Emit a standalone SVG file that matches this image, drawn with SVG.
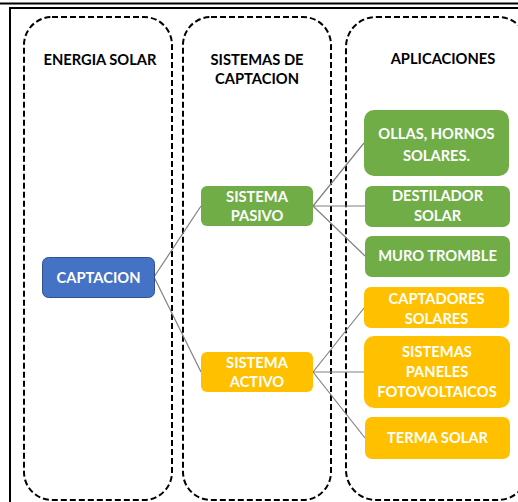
<svg xmlns="http://www.w3.org/2000/svg" width="518" height="502" viewBox="0 0 518 502">
<style>
.frame{fill:none;stroke:#000;stroke-width:2}
.lane{fill:none;stroke:#000;stroke-width:2;stroke-dasharray:6 3}
.hdr{font-family:Lato,"Liberation Sans",Arial,sans-serif;font-weight:bold;font-size:14.7px;fill:#000;text-anchor:middle}
.lbl{font-family:Lato,"Liberation Sans",Arial,sans-serif;font-weight:bold;font-size:14.7px;fill:#fff;text-anchor:middle}
.green{fill:#70AD47}
.orange{fill:#FFC000}
.blue{fill:#4472C4;stroke:#2F528F;stroke-width:1}
.conn line{stroke:#808080;stroke-width:1.2}
</style>
<rect width="518" height="502" fill="#fff"/>
<g id="frame">
<line class="frame" x1="0" y1="3.5" x2="518" y2="3.5"/>
<line class="frame" x1="9" y1="8" x2="518" y2="8"/>
<line class="frame" x1="10" y1="7" x2="10" y2="502"/>
</g>
<g id="lanes">
<rect class="lane" x="24" y="17" width="148" height="483" rx="28"/>
<rect class="lane" x="183" y="17" width="148" height="483" rx="28"/>
<rect class="lane" x="346" y="17" width="182" height="483" rx="30"/>
<text class="hdr" x="100" y="65">ENERGIA SOLAR</text>
<text class="hdr" x="257" y="65">SISTEMAS DE</text>
<text class="hdr" x="257" y="84">CAPTACION</text>
<text class="hdr" x="443" y="64">APLICACIONES</text>
</g>
<g id="connectors" class="conn">
<line x1="154" y1="277" x2="201" y2="206"/>
<line x1="154" y1="277" x2="201" y2="372"/>
<line x1="313" y1="206" x2="364" y2="143"/>
<line x1="313" y1="206" x2="365" y2="206"/>
<line x1="313" y1="206" x2="365" y2="256"/>
<line x1="313" y1="372" x2="364" y2="308"/>
<line x1="313" y1="372" x2="364" y2="372"/>
<line x1="313" y1="372" x2="365" y2="438"/>
</g>
<g id="captacion">
<rect class="blue" x="42.5" y="257.5" width="112" height="40" rx="6"/>
<text class="lbl" x="98.5" y="283">CAPTACION</text>
</g>
<g id="pasivo">
<rect class="green" x="201" y="186" width="112" height="40" rx="6"/>
<text class="lbl" x="257" y="202">SISTEMA</text>
<text class="lbl" x="257" y="221">PASIVO</text>
</g>
<g id="activo">
<rect class="orange" x="201" y="352" width="112" height="40" rx="6"/>
<text class="lbl" x="257" y="368">SISTEMA</text>
<text class="lbl" x="257" y="387">ACTIVO</text>
</g>
<g id="ollas">
<rect class="green" x="364" y="110" width="145" height="66" rx="10"/>
<text class="lbl" x="436.5" y="139">OLLAS, HORNOS</text>
<text class="lbl" x="436.5" y="161">SOLARES.</text>
</g>
<g id="destilador">
<rect class="green" x="365" y="186" width="145" height="41" rx="7"/>
<text class="lbl" x="437.5" y="201">DESTILADOR</text>
<text class="lbl" x="437.5" y="221">SOLAR</text>
</g>
<g id="muro">
<rect class="green" x="365" y="236" width="145" height="41" rx="7"/>
<text class="lbl" x="437.5" y="261">MURO TROMBLE</text>
</g>
<g id="captadores">
<rect class="orange" x="364" y="287" width="145" height="41" rx="7"/>
<text class="lbl" x="436.5" y="304">CAPTADORES</text>
<text class="lbl" x="436.5" y="324">SOLARES</text>
</g>
<g id="paneles">
<rect class="orange" x="364" y="336" width="146" height="72" rx="10"/>
<text class="lbl" x="437" y="357">SISTEMAS</text>
<text class="lbl" x="437" y="377">PANELES</text>
<text class="lbl" x="437" y="397">FOTOVOLTAICOS</text>
</g>
<g id="terma">
<rect class="orange" x="365" y="417" width="145" height="42" rx="7"/>
<text class="lbl" x="437.5" y="443">TERMA SOLAR</text>
</g>
</svg>
